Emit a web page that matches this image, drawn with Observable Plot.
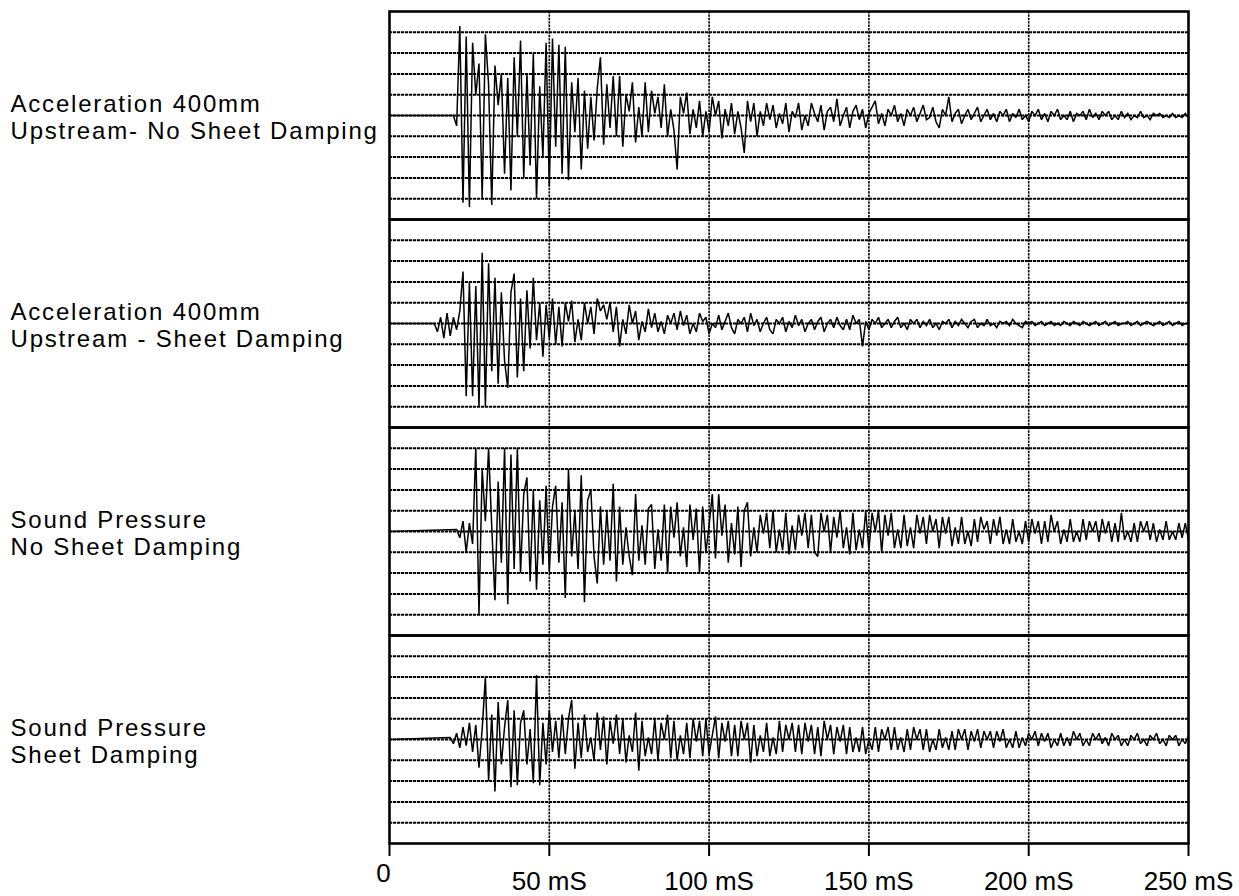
<!DOCTYPE html>
<html>
<head>
<meta charset="utf-8">
<script src="https://cdn.jsdelivr.net/npm/d3@7"></script>
<script src="https://cdn.jsdelivr.net/npm/@observablehq/plot@0.6"></script>
<style>
  html, body { margin: 0; padding: 0; background: #fff; }
  #chart g[aria-label="text"] text { letter-spacing: 1.8px; }
</style>
</head>
<body>
<div id="chart"></div>
<script>
// ---- data (values in grid divisions, sampled every 1 ms from onset) ----
const panelIds = [0, 1, 2, 3];
const panelLine1 = ["Acceleration 400mm", "Acceleration 400mm", "Sound Pressure", "Sound Pressure"];
const panelLine2 = ["Upstream- No Sheet Damping", "Upstream - Sheet Damping", "No Sheet Damping", "Sheet Damping"];
const onsetMs = [20, 14, 21, 19];
const sampleStepMs = 1;
const xTicks = [0, 50, 100, 150, 200, 250];
const xTickLabels = ["0", "50 mS", "100 mS", "150 mS", "200 mS", "250 mS"];
const gridDivisions = [-4, -3, -2, -1, 0, 1, 2, 3, 4];
const verticalGrid = [50, 100, 150, 200];

const accelNoDamping = [
0, -0.5, 4.3, -4.2, 3.8, -4.4, 3.5, 1.0, 2.5, -4.0, 3.9,
1.5, -4.3, 2.4, 0.5, 2.0, -2.8, 1.8, -3.6, 2.8, -1.0,
3.6, -3.0, 2.0, -2.4, 3.0, -4.0, 1.4, -2.0, 3.5, -3.4,
3.7, -1.5, 3.4, -2.8, 3.3, -3.1, 1.6, -0.8, 1.8, -2.6,
1.2, -1.6, 0.9, -1.2, 1.3, 2.8, -1.4, 1.5, -0.6, 1.9,
-1.0, 1.9, -1.5, 1.0, 0.2, 1.6, -1.3, 0.4, -1.0, 1.6,
-0.8, 1.2, 0.1, 0.9, -0.6, 1.5, -1.0, 0.3, -0.7, -2.6,
0.9, 0.1, 1.1, -0.9, 0.3, -0.6, 0.7, -1.0, 0.2, -0.8,
0.9, 0.0, 0.7, -1.1, 0.3, -0.5, 0.6, -0.9, 0.2, -0.6,
-1.8, 0.7, -0.3, 0.6, -1.0, 0.2, -0.5, 0.6, -0.2, 0.5,
-0.6, 0.1, -0.4, 0.6, -0.8, 0.2, -0.1, 0.6, -0.7, 0.0,
-0.5, 0.6, 0.1, -0.3, 0.5, -0.7, 0.2, 0.4, -0.3, 0.8,
-0.5, 0.0, 0.4, -0.6, 0.2, 0.5, -0.2, 0.3, -0.6, 0.1,
0.4, 0.7, -0.4, 0.1, -0.5, 0.3, 0.0, 0.5, -0.3, 0.1,
-0.5, 0.3, 0.0, 0.4, -0.3, 0.1, 0.5, -0.2, -0.1, 0.4,
-0.3, -0.6, 0.3, 0.0, 0.9, -0.3, 0.1, 0.3, -0.4, 0.0,
0.3, -0.2, 0.1, 0.4, -0.3, 0.0, 0.3, -0.2, 0.1, -0.3,
0.2, 0.0, 0.3, -0.3, 0.1, -0.1, 0.3, -0.2, 0.0, -0.3,
0.2, 0.0, 0.3, -0.2, 0.1, -0.3, 0.2, 0.0, 0.3, -0.2,
0.0, -0.2, 0.2, -0.3, 0.1, 0.0, 0.2, -0.2, 0.3, -0.1,
0.1, -0.2, 0.2, 0.0, 0.2, -0.2, 0.0, -0.2, 0.2, -0.1,
0.1, -0.2, 0.0, -0.1, 0.2, -0.1, 0.0, -0.2, 0.1, 0.0,
0.1, -0.1, 0.0, -0.1, 0.1, -0.1, 0.0, -0.1, 0.1, -0.1
];

const accelDamping = [
0.0, -0.4, 0.3, -0.7, 0.5, -0.6, 0.3, -0.3, 0.6, 2.5,
-3.5, 2.0, -3.5, 1.8, -4.0, 3.4, -4.0, 2.9, -2.3, 2.2,
-2.9, 1.5, -1.8, -3.1, 1.5, 2.4, -2.6, 1.2, -2.3, 1.6,
-1.2, 2.2, -0.8, 1.0, -1.6, 0.9, -0.7, 1.2, -1.0, 0.8,
-1.1, 1.0, 0.1, 1.1, -0.9, 0.2, -0.8, 1.0, 0.0, 0.8,
-0.5, 1.2, 0.6, 0.9, 0.2, 1.0, -0.4, 0.8, -1.1, 0.2,
-0.5, 0.9, 0.0, 0.6, -0.8, 0.1, -0.4, 0.7, -0.2, 0.5,
-0.4, 0.1, -0.5, 0.4, 0.0, 0.5, -0.3, 0.6, -0.1, 0.4,
-0.5, 0.0, -0.4, 0.5, 0.1, 0.3, -0.5, 0.0, -0.2, 0.4,
-0.3, 0.1, 0.5, -0.2, -0.5, 0.2, 0.0, 0.3, -0.4, 0.5,
-0.1, 0.2, -0.4, 0.0, 0.3, -0.3, -0.5, 0.2, 0.0, 0.3,
-0.4, 0.1, -0.2, 0.4, -0.1, 0.2, -0.4, 0.0, 0.2, -0.3,
0.1, 0.3, -0.4, 0.0, 0.2, -0.2, 0.3, -0.1, -0.3, 0.2,
-0.3, 0.4, 0.0, 0.2, -1.1, 0.1, -0.3, 0.2, 0.0, 0.3,
-0.2, 0.0, 0.2, -0.2, 0.1, 0.3, -0.2, 0.0, -0.3, 0.2,
0.0, 0.2, -0.2, 0.1, -0.1, 0.2, -0.2, 0.0, -0.3, 0.1,
0.0, 0.2, -0.2, 0.1, -0.1, 0.2, 0.0, -0.2, 0.1, 0.2,
-0.2, 0.0, -0.1, 0.2, -0.1, 0.0, -0.2, 0.1, 0.0, 0.1,
-0.1, 0.2, 0.0, -0.1, -0.2, 0.1, 0.0, 0.1, -0.1, 0.0,
0.1, -0.1, 0.0, 0.1, -0.1, 0.0, -0.1, 0.1, 0.0, -0.1,
0.1, 0.0, -0.1, 0.1, 0.0, -0.1, 0.0, 0.1, -0.1, 0.0,
0.1, -0.1, 0.0, 0.1, -0.1, 0.0, 0.0, 0.1, -0.1, 0.0,
0.1, -0.1, 0.0, 0.1, 0.0, -0.1, 0.0, 0.1, -0.1, 0.0,
0.1, -0.1, 0.0, 0.1, -0.1, 0.0, 0.0
];

const soundNoDamping = [
0.1, -0.3, 0.5, -1.0, 0.4, -0.6, 4.0, -4.0, 3.0, 0.5,
4.0, 0.2, -3.3, 2.4, -1.5, 4.0, -3.5, 3.7, -1.8, 4.0,
-2.0, 1.8, 2.6, -2.4, 2.0, -2.8, 1.5, -1.6, 2.2, -1.9,
1.2, 2.2, -1.5, 1.4, -3.2, 3.0, -1.2, 1.0, -1.8, 2.7,
-3.4, 1.5, 2.0, -1.2, -2.5, 1.2, -1.6, 1.0, -1.4, 2.3,
-2.4, 1.2, -1.6, 0.2, -1.2, -2.1, 1.8, -1.4, 0.3, -1.6,
1.1, 1.3, -1.8, 0.1, -1.4, 1.3, -2.0, 1.2, -0.3, 1.4,
-1.2, 0.2, -1.7, 1.3, -0.4, 1.1, -2.0, 1.2, -1.0, 0.3,
1.8, -1.3, 1.8, -0.2, 1.3, -1.5, 0.4, -1.1, 1.2, -1.7,
1.0, 1.4, -1.2, 0.2, -1.0, 0.8, -0.1, 0.9, -0.8, 1.0,
-1.0, 0.1, -0.9, 0.9, -1.1, 0.3, -0.9, 0.8, -0.2, 0.9,
-0.8, 0.8, -1.0, -1.2, 0.9, 0.0, 0.8, -1.0, 0.7, -0.3,
1.0, -0.8, 0.2, -1.1, 0.9, -0.9, 0.1, -0.8, 1.0, -0.9,
0.9, 0.0, 1.0, -1.0, 0.8, -0.2, 0.9, -0.8, 0.1, -0.8,
0.8, -0.7, 0.2, -0.8, 0.8, -0.1, 0.7, -0.6, 0.8, 0.0,
0.6, -0.8, 0.7, -0.1, 0.7, -0.7, 0.2, -0.6, 0.7, -0.6,
0.0, -0.7, 0.6, -0.5, 0.7, 0.1, 0.5, -0.6, 0.6, -0.2,
0.7, -0.6, 0.1, -0.6, 0.6, -0.5, 0.0, -0.6, 0.5, -0.5,
0.6, -0.1, 0.5, -0.6, 0.5, -0.5, 0.8, 0.0, 0.5, -0.6,
0.1, -0.5, 0.6, -0.5, 0.0, -0.5, 0.6, -0.4, 0.5, 0.0,
0.5, -0.5, 0.6, -0.1, 0.5, -0.5, 0.4, -0.5, 0.9, -0.4,
0.0, -0.5, 0.4, -0.5, 0.5, 0.0, 0.5, -0.4, 0.4, -0.5,
0.1, -0.4, 0.5, -0.4, 0.0, -0.4, 0.4, -0.3, 0.4, -0.4
];

const soundDamping = [
0.1, -0.2, 0.3, -0.4, 0.6, -0.3, 0.8, -0.6, 0.7, -1.35,
0.5, 3.0, -2.0, 1.2, -2.5, 1.8, -1.2, 0.6, 1.9, -2.3,
1.4, -2.2, 0.8, 1.4, -1.2, 0.5, -2.1, 3.1, -2.2, 0.8,
-1.2, 1.4, -0.6, 0.9, -0.9, 1.2, -0.7, 1.0, 1.9, -1.4,
0.8, -0.9, 1.2, -0.6, 0.1, -1.0, 1.3, -0.5, 1.1, -1.2,
0.9, -0.2, 1.2, -0.7, 1.0, -1.1, 0.2, -0.6, 1.3, -1.5,
0.9, -0.8, 0.1, -0.7, 1.0, -1.0, 0.8, 0.0, 1.2, -0.9,
0.9, -1.0, 0.2, -0.7, 0.8, -0.9, 1.0, -0.1, 0.9, -0.8,
1.0, -0.7, 0.2, 1.1, -0.9, 0.8, -0.1, 0.9, -0.8, 0.7,
-0.8, 0.9, 0.0, 0.8, -1.1, 0.7, -0.8, 0.2, -0.6, 0.8,
-0.8, 0.1, -0.7, 0.9, -0.6, 0.7, 0.0, 0.8, -0.6, 0.7,
-0.7, 0.8, -0.1, 0.7, -0.7, 0.6, -0.8, 0.9, 0.0, 0.7,
-0.7, 0.6, -0.1, 0.7, -0.7, 0.6, -0.6, 0.1, -0.6, 0.6,
-0.7, 0.0, -0.5, 0.6, -0.6, 0.5, 0.0, 0.6, -0.5, 0.6,
-0.5, 0.1, -0.6, 0.5, -0.5, 0.6, 0.0, 0.5, -0.5, 0.5,
-0.6, 0.0, -0.5, 0.5, -0.4, 0.1, -0.5, 0.4, -0.5, 0.5,
0.0, 0.5, -0.5, 0.4, -0.1, 0.5, -0.4, 0.4, 0.0, 0.4,
-0.4, 0.4, -0.1, 0.5, -0.4, 0.0, -0.4, 0.4, -0.4, 0.1,
-0.3, 0.3, 0.0, 0.4, -0.3, 0.3, -0.1, 0.3, -0.4, 0.0,
-0.3, 0.3, -0.3, 0.1, -0.3, 0.4, 0.0, 0.3, -0.3, 0.0,
-0.3, 0.3, 0.0, 0.3, -0.2, 0.1, -0.3, 0.3, 0.0, 0.2,
-0.3, 0.0, -0.3, 0.2, 0.0, 0.3, -0.2, 0.0, -0.3, 0.2,
0.0, 0.3, -0.2, 0.0, -0.3, 0.2, 0.0, 0.2, -0.3, 0.0,
-0.2, 0.2
];

// ---- build tables for the library ----
const seriesList = [accelNoDamping, accelDamping, soundNoDamping, soundDamping];
const traceRows = [];
seriesList.forEach((vals, k) => {
  traceRows.push({panel: panelIds[k], t: 0, v: 0});
  vals.forEach((v, i) => traceRows.push({panel: panelIds[k], t: onsetMs[k] + i * sampleStepMs, v}));
});
const labelRows = panelIds.map((p, k) => ({panel: p, label: panelLine1[k] + "\n" + panelLine2[k]}));
const tickText = (d) => xTickLabels[xTicks.indexOf(d)];

const chart = Plot.plot({
  width: 1239,
  height: 896,
  marginLeft: 389,
  marginRight: 51,
  marginTop: 10,
  marginBottom: 53,
  style: {fontFamily: "'Liberation Sans', Arial, Helvetica, sans-serif", color: "black", background: "white", overflow: "visible"},
  x: {domain: [0, 250], axis: null, label: null},
  y: {domain: [-5, 5], axis: null, label: null},
  fy: {domain: panelIds, padding: 0, axis: null, label: null},
  marks: [
    Plot.ruleY(gridDivisions, {y: (d) => d, stroke: "black", strokeWidth: 2, strokeDasharray: "3.2,0.8"}),
    Plot.ruleX(verticalGrid, {x: (d) => d, stroke: "black", strokeWidth: 1.6, strokeDasharray: "2.4,1"}),
    Plot.frame({stroke: "black", strokeWidth: 2.6}),
    Plot.line(traceRows, {x: "t", y: "v", fy: "panel", z: "panel", stroke: "black", strokeWidth: 1.5, strokeLinejoin: "miter", strokeMiterlimit: 2}),
    Plot.text(labelRows, {fy: "panel", text: "label", frameAnchor: "left", textAnchor: "start", lineAnchor: "middle", dx: -379, dy: 1, fontSize: 24, lineHeight: 1.12, fill: "black"}),
    Plot.axisX({ticks: xTicks, tickSize: 13, tickFormat: () => "", label: null, stroke: "black", strokeWidth: 2}),
    Plot.axisX({ticks: xTicks.slice(1), tickSize: 0, tickPadding: 28, tickFormat: tickText, label: null, fontSize: 26, fill: "black"}),
    Plot.axisX({ticks: xTicks.slice(0, 1), tickSize: 0, tickPadding: 20, dx: -6, tickFormat: tickText, label: null, fontSize: 26, fill: "black"})
  ]
});
document.getElementById("chart").appendChild(chart);
</script>
</body>
</html>
